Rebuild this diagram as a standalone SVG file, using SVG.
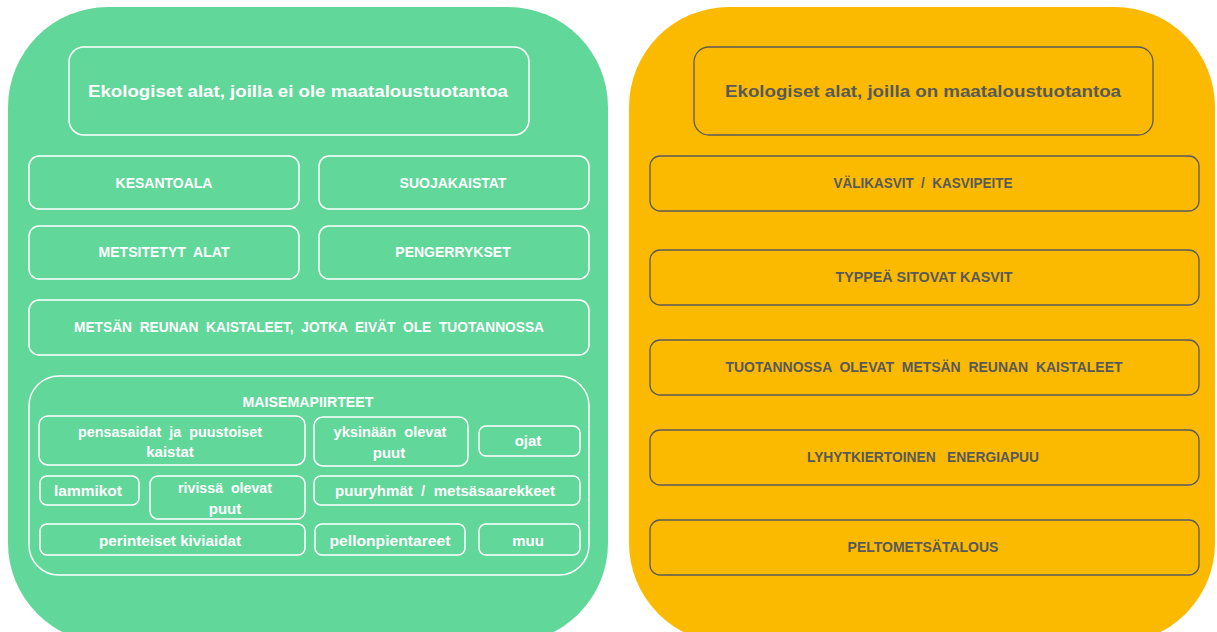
<svg xmlns="http://www.w3.org/2000/svg" width="1217" height="632" viewBox="0 0 1217 632">
<style>
.g{fill:#61D79A}
.y{fill:#FBBA00}
.wb{fill:none;stroke:#ffffff;stroke-width:1.5}
.gb{fill:none;stroke:#5a5a5a;stroke-width:1.3}
text{font-family:"Liberation Sans",Arial,sans-serif;font-weight:bold;text-anchor:middle;dominant-baseline:central}
.wt{fill:#ffffff;font-size:14px}
.gt{fill:#595959;font-size:14px}
.lc{font-size:15px}
.ttl{font-size:17px}
</style>
<rect width="1217" height="632" fill="#ffffff"/>
<g id="panel-left">
<rect class="g" x="8" y="7" width="600" height="636" rx="100"/>
</g>
<g id="panel-right">
<rect class="y" x="629" y="7" width="586" height="636" rx="100"/>
</g>
<g id="connectors"/>
<g id="title-left"><rect class="wb" x="69" y="47" width="460" height="88" rx="15"/><text class="wt ttl" x="298" y="91" textLength="420" lengthAdjust="spacingAndGlyphs">Ekologiset alat, joilla ei ole maataloustuotantoa</text></g>
<g id="kesantoala"><rect class="wb" x="29" y="156" width="270" height="53" rx="10"/><text class="wt" x="164" y="183">KESANTOALA</text></g>
<g id="suojakaistat"><rect class="wb" x="319" y="156" width="270" height="53" rx="10"/><text class="wt" x="453" y="183">SUOJAKAISTAT</text></g>
<g id="metsitetyt"><rect class="wb" x="29" y="226" width="270" height="53" rx="10"/><text class="wt" x="164" y="252" textLength="131" lengthAdjust="spacingAndGlyphs" xml:space="preserve">METSITETYT  ALAT</text></g>
<g id="pengerrykset"><rect class="wb" x="319" y="226" width="270" height="53" rx="10"/><text class="wt" x="453" y="252">PENGERRYKSET</text></g>
<g id="metsan-reunan"><rect class="wb" x="29" y="300" width="560" height="55" rx="10"/><text class="wt" x="309" y="327" textLength="470" lengthAdjust="spacingAndGlyphs" xml:space="preserve">METSÄN  REUNAN  KAISTALEET,  JOTKA  EIVÄT  OLE  TUOTANNOSSA</text></g>
<g id="maisemapiirteet"><rect class="wb" x="29" y="376" width="560" height="199" rx="30"/><text class="wt" x="308" y="402" textLength="131" lengthAdjust="spacingAndGlyphs">MAISEMAPIIRTEET</text></g>
<g id="pensasaidat"><rect class="wb" x="39" y="416" width="266" height="49" rx="9"/><text class="wt lc" x="170" y="431" textLength="184" lengthAdjust="spacingAndGlyphs" xml:space="preserve">pensasaidat  ja  puustoiset</text><text class="wt lc" x="170" y="451">kaistat</text></g>
<g id="yksinaan"><rect class="wb" x="314" y="417" width="154" height="49" rx="9"/><text class="wt lc" x="390" y="431" textLength="113" lengthAdjust="spacingAndGlyphs" xml:space="preserve">yksinään  olevat</text><text class="wt lc" x="389" y="452">puut</text></g>
<g id="ojat"><rect class="wb" x="479" y="426" width="101" height="30" rx="7"/><text class="wt lc" x="528" y="440">ojat</text></g>
<g id="lammikot"><rect class="wb" x="40" y="476" width="99" height="29" rx="7"/><text class="wt lc" x="88" y="490" textLength="68" lengthAdjust="spacingAndGlyphs">lammikot</text></g>
<g id="rivissa"><rect class="wb" x="150" y="476" width="155" height="43" rx="8"/><text class="wt lc" x="225" y="487" textLength="94" lengthAdjust="spacingAndGlyphs" xml:space="preserve">rivissä  olevat</text><text class="wt lc" x="225" y="508">puut</text></g>
<g id="puuryhmat"><rect class="wb" x="314" y="476" width="266" height="29" rx="7"/><text class="wt lc" x="445" y="490" textLength="220" lengthAdjust="spacingAndGlyphs" xml:space="preserve">puuryhmät  /  metsäsaarekkeet</text></g>
<g id="kiviaidat"><rect class="wb" x="40" y="524" width="265" height="31" rx="7"/><text class="wt lc" x="170" y="540" textLength="142" lengthAdjust="spacingAndGlyphs">perinteiset kiviaidat</text></g>
<g id="pellonpientareet"><rect class="wb" x="315" y="524" width="150" height="31" rx="7"/><text class="wt lc" x="390" y="540" textLength="121" lengthAdjust="spacingAndGlyphs">pellonpientareet</text></g>
<g id="muu"><rect class="wb" x="479" y="524" width="101" height="31" rx="7"/><text class="wt lc" x="528" y="540">muu</text></g>
<g id="title-right"><rect class="gb" x="694" y="47" width="459" height="88" rx="15"/><text class="gt ttl" x="923" y="91" textLength="396" lengthAdjust="spacingAndGlyphs">Ekologiset alat, joilla on maataloustuotantoa</text></g>
<g id="valikasvit"><rect class="gb" x="650" y="156" width="549" height="55" rx="10"/><text class="gt" x="923" y="183" textLength="179" lengthAdjust="spacingAndGlyphs" xml:space="preserve">VÄLIKASVIT  /  KASVIPEITE</text></g>
<g id="typpea"><rect class="gb" x="650" y="250" width="549" height="55" rx="10"/><text class="gt" x="924" y="277" textLength="177" lengthAdjust="spacingAndGlyphs">TYPPEÄ SITOVAT KASVIT</text></g>
<g id="tuotannossa"><rect class="gb" x="650" y="340" width="549" height="55" rx="10"/><text class="gt" x="924" y="367" textLength="397" lengthAdjust="spacingAndGlyphs" xml:space="preserve">TUOTANNOSSA  OLEVAT  METSÄN  REUNAN  KAISTALEET</text></g>
<g id="lyhytkiertoinen"><rect class="gb" x="650" y="430" width="549" height="55" rx="10"/><text class="gt" x="923" y="457" textLength="232" lengthAdjust="spacingAndGlyphs" xml:space="preserve">LYHYTKIERTOINEN   ENERGIAPUU</text></g>
<g id="peltometsatalous"><rect class="gb" x="650" y="520" width="549" height="55" rx="10"/><text class="gt" x="923" y="547">PELTOMETSÄTALOUS</text></g>
</svg>
